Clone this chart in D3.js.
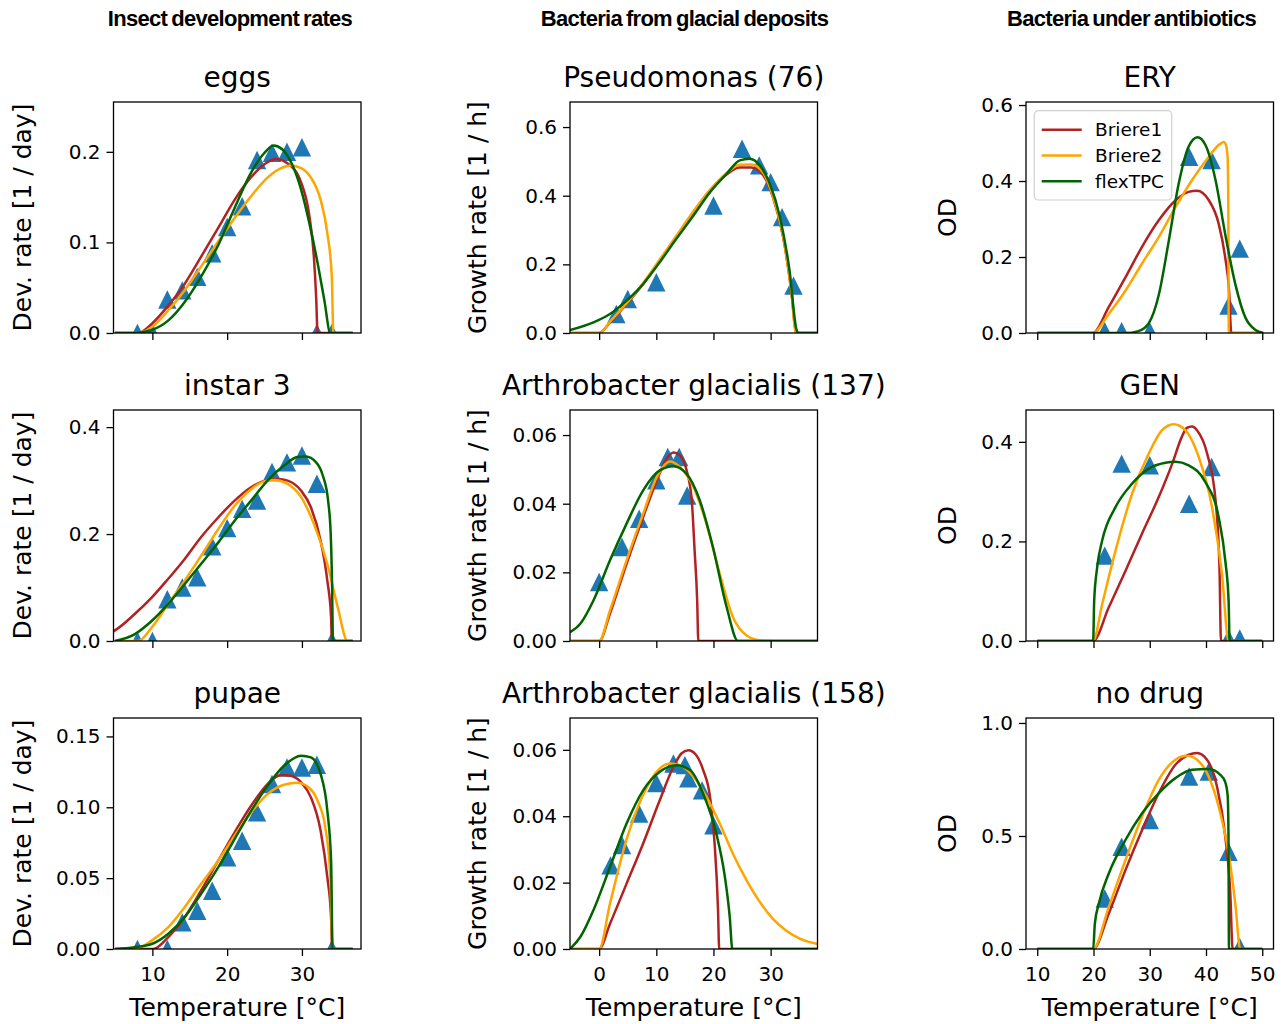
<!DOCTYPE html>
<html>
<head>
<meta charset="utf-8">
<script src="https://cdn.jsdelivr.net/npm/d3@7"></script>
<style>
body { margin: 0; background: #fff; }
text { font-family: "DejaVu Sans", sans-serif; fill: #000; }
.header { font-family: "Liberation Sans", Arial, sans-serif; font-weight: bold; font-size: 22px; letter-spacing: -0.7px; word-spacing: -1.5px; }
</style>
</head>
<body>
<svg id="fig" width="1288" height="1024"></svg>
<script>
// ---- data ----
const models = ["Briere1", "Briere2", "flexTPC"]
const modelColors = ["#b22222", "#ffa500", "#006400"]
const headers = ["Insect development rates", "Bacteria from glacial deposits", "Bacteria under antibiotics"]
const yLabels = ["Dev. rate [1 / day]", "Growth rate [1 / h]", "OD"]

const xDomains = [[4.8, 37.9], [-5.1, 38.2], [8, 52]]
const xTicks = [[10, 20, 30], [0, 10, 20, 30], [10, 20, 30, 40, 50]]

// insect: eggs
const eggsT = [8, 10, 12, 14, 16, 18, 20, 22, 24, 26, 28, 30, 32, 34]
const eggsV = [0, 0, 0.037, 0.047, 0.062, 0.088, 0.117, 0.14, 0.191, 0.199, 0.2, 0.205, 0, 0]
const eggsBriere1 = [[5,0],[8.1,0],[9.9,0.010],[12.1,0.030],[14.3,0.054],[16.5,0.084],[18.8,0.116],[21,0.147],[23.2,0.172],[25.4,0.1885],[26.5,0.192],[28.1,0.187],[29.9,0.166],[31,0.129],[31.6,0.084],[31.9,0.04],[32.1,0],[36.8,0]]
const eggsBriere2 = [[5,0],[8.1,0],[9.9,0.0063],[12.1,0.0248],[14.3,0.047],[16.5,0.0733],[18.8,0.101],[21,0.127],[23.2,0.151],[25.4,0.1715],[27.2,0.182],[28.5,0.185],[29.9,0.182],[31.2,0.1715],[32.5,0.147],[33.4,0.11],[34,0.062],[34.2,0],[36.8,0]]
const eggsFlex = [[5,0],[7.6,0],[9.9,0.0033],[12.1,0.0137],[14.3,0.034],[16.5,0.062],[18.8,0.097],[21,0.138],[23.2,0.177],[25,0.199],[26.2,0.207],[27.4,0.2026],[28.8,0.184],[29.9,0.158],[31,0.121],[32.1,0.077],[33,0.036],[33.8,0],[36.8,0]]

// insect: instar 3
const instarT = [8, 10, 12, 14, 16, 18, 20, 22, 24, 26, 28, 30, 32, 34]
const instarV = [0, 0, 0.078, 0.1, 0.119, 0.177, 0.211, 0.247, 0.2625, 0.316, 0.334, 0.347, 0.294, 0]
const instarBriere1 = [[4,0.013],[5,0.02],[7.6,0.05],[9.9,0.081],[12.1,0.116],[14.3,0.153],[16.5,0.194],[18.8,0.231],[21,0.2625],[23.2,0.2875],[25.4,0.301],[26.8,0.303],[28.1,0.3],[29.9,0.281],[31.2,0.25],[32.5,0.1875],[33.4,0.1125],[33.9,0.044],[34,0],[36.8,0]]
const instarBriere2 = [[5,0],[8.1,0],[9.9,0.025],[12.1,0.069],[14.3,0.1125],[16.5,0.159],[18.8,0.209],[21,0.253],[23.2,0.284],[25.4,0.3],[26.3,0.301],[28.1,0.294],[29.9,0.269],[31.6,0.219],[33.4,0.144],[34.8,0.0625],[36.1,0],[36.8,0]]
const instarFlex = [[5,0],[7.6,0.0125],[9.9,0.0375],[12.1,0.069],[14.3,0.106],[16.5,0.144],[18.8,0.184],[21,0.225],[23.2,0.2625],[25.4,0.3],[27.6,0.328],[29.4,0.344],[30.5,0.345],[31.9,0.334],[32.8,0.309],[33.5,0.2625],[33.85,0.2],[34.03,0.106],[34.15,0],[36.8,0]]

// insect: pupae
const pupaeT = [8, 12, 14, 16, 18, 20, 22, 24, 26, 28, 30, 32, 34]
const pupaeV = [0, 0, 0.0188, 0.027, 0.0411, 0.0647, 0.0764, 0.0964, 0.1164, 0.1281, 0.1281, 0.13, 0]
const pupaeBriere1 = [[5,0],[10.1,0],[12.1,0.0082],[14.3,0.0223],[16.5,0.0411],[18.8,0.0623],[21,0.0823],[23.2,0.1011],[25.4,0.1164],[27.2,0.1228],[28.5,0.1223],[29.9,0.1176],[31.2,0.107],[32.5,0.0834],[33.4,0.0505],[33.9,0.0223],[34.05,0],[36.8,0]]
const pupaeBriere2 = [[5,0],[7.6,0],[9.9,0.0059],[12.1,0.0153],[14.3,0.0294],[16.5,0.0458],[18.8,0.0623],[21,0.0799],[23.2,0.0964],[25.4,0.1093],[27.6,0.1159],[29.4,0.1173],[30.8,0.1145],[32.1,0.1046],[33.2,0.0834],[33.8,0.0505],[34.1,0],[36.8,0]]
const pupaeFlex = [[5,0],[7.6,0.0012],[9.9,0.0035],[12.1,0.0106],[14.3,0.0223],[16.5,0.0388],[18.8,0.0576],[21,0.0776],[23.2,0.0975],[25.4,0.1152],[27.6,0.1293],[29.9,0.1364],[31.2,0.1352],[32.5,0.1234],[33.4,0.0975],[33.9,0.0623],[34.1,0],[36.8,0]]

// glacial: Pseudomonas (76)
const pseudoT = [3, 5, 10, 20, 25, 28, 30, 32, 34]
const pseudoV = [0.0554, 0.0992, 0.1479, 0.3716, 0.537, 0.4883, 0.4397, 0.3375, 0.1381]
const pseudoBriere1 = [[-5.1,0],[0,0],[1.9,0.031],[4.8,0.0846],[7.7,0.1429],[10.6,0.211],[13.5,0.2792],[16.5,0.3521],[19.4,0.4154],[22.3,0.462],[24.6,0.482],[26.6,0.482],[28.7,0.46],[30.4,0.3959],[32.2,0.2792],[33.6,0.1245],[34.5,0],[38.2,0]]
const pseudoBriere2 = [[-5.1,0],[0,0],[1.9,0.033],[4.8,0.087],[7.7,0.146],[10.6,0.214],[13.5,0.283],[16.5,0.355],[19.4,0.417],[22.3,0.466],[24.6,0.49],[26.6,0.491],[28.7,0.467],[30.4,0.398],[32.2,0.28],[33.6,0.125],[34.45,0],[38.2,0]]
const pseudoFlex = [[-5.5,0.007],[-1,0.0311],[1.9,0.0554],[4.8,0.0943],[7.7,0.1429],[10.6,0.2062],[13.5,0.2743],[16.5,0.3424],[19.4,0.4105],[22.3,0.464],[24.6,0.5029],[26.3,0.5078],[28.1,0.4883],[29.8,0.4368],[31.6,0.3395],[33.3,0.1829],[34.5,0.0117],[34.8,0],[38.2,0]]

// glacial: Arthrobacter glacialis (137)
const a137T = [0, 4, 7, 10, 12, 14, 15.4]
const a137V = [0.0172, 0.0274, 0.0356, 0.0468, 0.0536, 0.0536, 0.0424]
const a137Briere1 = [[-5.1,0],[0,0],[1.9,0.008],[4.8,0.0225],[7.7,0.0361],[10.1,0.0468],[11.8,0.0531],[13,0.0549],[14.1,0.0541],[15.3,0.0497],[16.2,0.041],[16.7,0.0264],[17.15,0.0118],[17.35,0],[38.2,0]]
const a137Briere2 = [[-5.1,0],[0,0],[1.9,0.0089],[4.8,0.0235],[7.7,0.0371],[10.1,0.0478],[12.4,0.0523],[14.1,0.0507],[16.5,0.0449],[18.8,0.034],[21.1,0.0196],[23.4,0.007],[25.8,0.0016],[28.1,0.0002],[30.4,0],[38.2,0]]
const a137Flex = [[-5.5,0.0022],[-3.3,0.005],[-1,0.0118],[1.9,0.0235],[4.8,0.0342],[7.7,0.0439],[10.6,0.0497],[13,0.0509],[15.3,0.0487],[17.6,0.041],[19.9,0.0274],[22.3,0.0099],[24.3,0],[38.2,0]]

// glacial: Arthrobacter glacialis (158)
const a158T = [2, 4, 7, 10, 13, 15, 15.6, 18, 20]
const a158V = [0.0252, 0.0313, 0.0408, 0.05, 0.0559, 0.0554, 0.0514, 0.0478, 0.0373]
const a158Briere1 = [[-5.1,0],[0,0],[1.9,0.0076],[4.8,0.0197],[7.7,0.0318],[10.6,0.0448],[13,0.0549],[14.4,0.0589],[15.6,0.0599],[17,0.0584],[18.2,0.0539],[19.4,0.0458],[20.2,0.0318],[20.8,0.0117],[21,0],[38.2,0]]
const a158Briere2 = [[-5.1,0],[0,0],[1.9,0.0137],[4.8,0.033],[7.7,0.0465],[10.6,0.0544],[12.4,0.0559],[14.1,0.0554],[16.5,0.0519],[18.8,0.0458],[21.1,0.0378],[23.4,0.0287],[25.8,0.0207],[28.1,0.0142],[30.4,0.0091],[32.7,0.0056],[35.1,0.0031],[38.2,0.0015]]
const a158Flex = [[-5.1,0],[-3.3,0.0036],[-1,0.0117],[1.9,0.0247],[4.8,0.0378],[7.7,0.0478],[10.6,0.0534],[13.5,0.0554],[15.9,0.0539],[18.2,0.0468],[20.5,0.0348],[22,0.0217],[22.85,0.0096],[23.3,0],[38.2,0]]

// antibiotics: ERY
const eryT = [22, 25, 30, 37, 41, 44, 46]
const eryV = [0.005, 0.005, 0.005, 0.464, 0.455, 0.072, 0.222]
const eryBriere1 = [[10,0],[19.9,0],[22.7,0.0678],[25.7,0.147],[28.6,0.2262],[31.6,0.2966],[34.6,0.3495],[36.9,0.3715],[38.4,0.3741],[40.5,0.3495],[42.25,0.2879],[43.4,0.2],[44.1,0.1118],[44.5,0],[50,0]]
const eryBriere2 = [[10,0],[19.9,0],[22.7,0.0502],[25.7,0.1118],[28.6,0.1822],[31.6,0.2526],[34.6,0.3319],[37.5,0.4022],[40.5,0.4639],[42.25,0.4947],[43.14,0.503],[43.55,0.495],[43.85,0.46],[43.98,0.3],[44.05,0],[50,0]]
const eryFlex = [[10,0],[25.7,0],[28,0.005],[29.8,0.025],[31.6,0.1],[33.4,0.2438],[35.15,0.3935],[36.9,0.4903],[38.5,0.515],[39.9,0.4947],[41.7,0.4022],[43.4,0.2614],[45.2,0.1294],[47,0.0405],[48.8,0.0079],[50.2,0]]

// antibiotics: GEN
const genT = [22, 25, 30, 37, 41, 44, 46]
const genV = [0.1714, 0.3563, 0.3529, 0.2756, 0.3496, 0.005, 0.005]
const genBriere1 = [[10,0],[19.94,0],[22.7,0.0672],[25.7,0.1412],[28.6,0.2151],[31.6,0.2891],[34,0.3563],[35.7,0.41],[36.6,0.428],[37.5,0.431],[38.4,0.4235],[40.2,0.3765],[41.7,0.2824],[42.4,0.1462],[42.66,0],[50,0]]
const genBriere2 = [[10,0],[19.94,0],[21.54,0.0739],[23.91,0.1815],[26.86,0.2958],[29.82,0.3765],[32.19,0.4235],[34.26,0.4356],[36.33,0.4235],[38.7,0.3697],[41.07,0.2689],[42.84,0.1345],[44.02,0],[50,0]]
const genFlex = [[10,0],[19.94,0],[20.12,0.0807],[20.65,0.1479],[21.54,0.2017],[23.91,0.2689],[26.86,0.316],[29.82,0.3462],[32.78,0.358],[34.56,0.36],[36.92,0.3529],[39.88,0.3193],[42.25,0.2487],[43.43,0.1613],[44.02,0.0807],[44.2,0],[50,0]]

// antibiotics: no drug
const noDrugT = [22, 25, 30, 37, 40.5, 44, 46]
const noDrugV = [0.2234, 0.4527, 0.571, 0.7633, 0.7855, 0.4305, 0.009]
const noDrugBriere1 = [[10,0],[19.94,0],[22.72,0.1568],[25.68,0.3491],[28.64,0.5266],[31.6,0.6893],[34.56,0.8151],[36.92,0.8595],[38.4,0.8669],[40.18,0.8373],[41.95,0.7189],[43.43,0.497],[44.32,0.2456],[44.73,0],[50,0]]
const noDrugBriere2 = [[10,0],[19.94,0],[22.72,0.1864],[25.68,0.3935],[28.64,0.5858],[31.6,0.7485],[34.56,0.8373],[36.63,0.855],[38.4,0.8373],[40.47,0.7633],[42.25,0.6302],[44.02,0.4231],[45.21,0.2012],[46.09,0],[50,0]]
const noDrugFlex = [[10,0],[19.94,0],[20.24,0.1124],[20.95,0.2012],[22.72,0.3343],[25.68,0.4822],[28.64,0.6006],[31.6,0.6893],[34.56,0.7559],[37.51,0.7929],[40.47,0.7959],[42.54,0.7707],[43.4,0.74],[43.85,0.68],[44.0,0.5],[44.08,0],[50,0]]

const panels = [
    {title: "eggs", col: 0, row: 0, yMax: 0.255, yTicks: [0, 0.1, 0.2], yFmt: ".1f", obsT: eggsT, obsV: eggsV, curves: [eggsBriere1, eggsBriere2, eggsFlex]},
    {title: "instar 3", col: 0, row: 1, yMax: 0.432, yTicks: [0, 0.2, 0.4], yFmt: ".1f", obsT: instarT, obsV: instarV, curves: [instarBriere1, instarBriere2, instarFlex]},
    {title: "pupae", col: 0, row: 2, yMax: 0.163, yTicks: [0, 0.05, 0.1, 0.15], yFmt: ".2f", obsT: pupaeT, obsV: pupaeV, curves: [pupaeBriere1, pupaeBriere2, pupaeFlex]},
    {title: "Pseudomonas (76)", col: 1, row: 0, yMax: 0.673, yTicks: [0, 0.2, 0.4, 0.6], yFmt: ".1f", obsT: pseudoT, obsV: pseudoV, curves: [pseudoBriere1, pseudoBriere2, pseudoFlex]},
    {title: "Arthrobacter glacialis (137)", col: 1, row: 1, yMax: 0.0673, yTicks: [0, 0.02, 0.04, 0.06], yFmt: ".2f", obsT: a137T, obsV: a137V, curves: [a137Briere1, a137Briere2, a137Flex]},
    {title: "Arthrobacter glacialis (158)", col: 1, row: 2, yMax: 0.0696, yTicks: [0, 0.02, 0.04, 0.06], yFmt: ".2f", obsT: a158T, obsV: a158V, curves: [a158Briere1, a158Briere2, a158Flex]},
    {title: "ERY", col: 2, row: 0, yMax: 0.608, yTicks: [0, 0.2, 0.4, 0.6], yFmt: ".1f", obsT: eryT, obsV: eryV, curves: [eryBriere1, eryBriere2, eryFlex], legend: true},
    {title: "GEN", col: 2, row: 1, yMax: 0.464, yTicks: [0, 0.2, 0.4], yFmt: ".1f", obsT: genT, obsV: genV, curves: [genBriere1, genBriere2, genFlex]},
    {title: "no drug", col: 2, row: 2, yMax: 1.022, yTicks: [0, 0.5, 1.0], yFmt: ".1f", obsT: noDrugT, obsV: noDrugV, curves: [noDrugBriere1, noDrugBriere2, noDrugFlex]}
]

// ---- layout ----
const colLeft = [113.5, 570, 1026], axW = 247.5
const rowTop = [102, 410, 718], axH = 231
const headerX = [230, 684.5, 1131.5]
const yLabelX = [31, 486, 956]

const svg = d3.select("#fig")
const defs = svg.append("defs")

headers.forEach((h, i) => {
    svg.append("text").attr("class", "header").attr("x", headerX[i]).attr("y", 26)
        .attr("text-anchor", "middle").text(h)
})

const tri = "M0,-9.2L9.2,9.2L-9.2,9.2Z"

panels.forEach((p, i) => {
    const x0 = colLeft[p.col], y0 = rowTop[p.row]
    const g = svg.append("g").attr("transform", `translate(${x0},${y0})`)

    let x = d3.scaleLinear().domain(xDomains[p.col]).range([0, axW])
    let y = d3.scaleLinear().domain([0, p.yMax]).range([axH, 0])

    defs.append("clipPath").attr("id", "clip" + i)
        .append("rect").attr("width", axW).attr("height", axH)

    const plot = g.append("g").attr("clip-path", `url(#clip${i})`)

    plot.selectAll("path.obs")
        .data(d3.zip(p.obsT, p.obsV))
        .join("path")
        .attr("class", "obs")
        .attr("d", tri)
        .attr("transform", d => `translate(${x(d[0])},${y(d[1])})`)
        .attr("fill", "#1f77b4")

    const line = d3.line().x(d => x(d[0])).y(d => y(d[1])).curve(d3.curveMonotoneX)
    p.curves.forEach((c, k) => {
        plot.append("path").datum(c)
            .attr("d", line)
            .attr("fill", "none")
            .attr("stroke", modelColors[k])
            .attr("stroke-width", 2.5)
            .attr("stroke-linejoin", "round")
    })

    // y axis
    const ya = g.append("g")
        .call(d3.axisLeft(y).tickValues(p.yTicks).tickFormat(d3.format(p.yFmt)).tickSize(7).tickPadding(6))
        .attr("font-size", 20).attr("font-family", null)
    ya.select(".domain").remove()
    ya.selectAll("line").attr("stroke-width", 1.3)

    // x axis (labels only on the bottom row)
    const xa = g.append("g").attr("transform", `translate(0,${axH})`)
        .call(d3.axisBottom(x).tickValues(xTicks[p.col]).tickSize(7).tickPadding(11)
            .tickFormat(p.row === 2 ? d3.format("d") : () => ""))
        .attr("font-size", 20).attr("font-family", null)
    xa.select(".domain").remove()
    xa.selectAll("line").attr("stroke-width", 1.3)

    // spines
    g.append("rect").attr("width", axW).attr("height", axH)
        .attr("fill", "none").attr("stroke", "#000").attr("stroke-width", 1.3)

    g.append("text").attr("x", axW / 2).attr("y", -15).attr("text-anchor", "middle")
        .attr("font-size", 28).text(p.title)

    svg.append("text")
        .attr("transform", `translate(${yLabelX[p.col]},${y0 + axH / 2}) rotate(-90)`)
        .attr("text-anchor", "middle").attr("font-size", 25).text(yLabels[p.col])

    if (p.row === 2) {
        svg.append("text").attr("x", x0 + axW / 2).attr("y", 1016).attr("text-anchor", "middle")
            .attr("font-size", 25).text("Temperature [°C]")
    }

    if (p.legend) {
        const lg = g.append("g").attr("transform", "translate(8.3,8.7)")
        lg.append("rect").attr("width", 137.4).attr("height", 89.3).attr("rx", 4)
            .attr("fill", "#fff").attr("fill-opacity", 0.8).attr("stroke", "#d0d0d0").attr("stroke-width", 1.2)
        models.forEach((m, k) => {
            const yy = 19 + k * 25.8
            lg.append("line").attr("x1", 7.4).attr("x2", 47.4).attr("y1", yy).attr("y2", yy)
                .attr("stroke", modelColors[k]).attr("stroke-width", 2.5)
            lg.append("text").attr("x", 60.7).attr("y", yy + 6.5).attr("font-size", 18.5).text(m)
        })
    }
})
</script>
</body>
</html>
